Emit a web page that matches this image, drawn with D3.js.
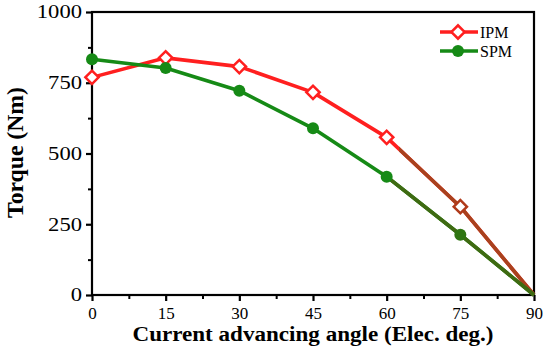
<!DOCTYPE html>
<html>
<head>
<meta charset="utf-8">
<script src="https://cdn.jsdelivr.net/npm/d3@7"></script>
<style>
  html, body { margin: 0; padding: 0; background: #fff; }
  svg { display: block; }
</style>
</head>
<body>
<figure id="chart" style="margin:0"></figure>
<script>
// chart values
const angles = [0, 15, 30, 45, 60, 75, 90];
const ipm = [769, 838, 807, 716, 557, 312, 0];
const spm = [833, 802, 722, 589, 418, 213, 0];
const xTicks = [0, 15, 30, 45, 60, 75, 90];
const yTicks = [0, 250, 500, 750, 1000];
const seriesNames = ["IPM", "SPM"];

const W = 550, H = 364;
const plotLeft = 92, plotTop = 12, plotRight = 534, plotBottom = 295;
const font = "'Liberation Serif', 'Times New Roman', serif";

const svg = d3.select("#chart")
  .append("svg")
  .attr("width", W)
  .attr("height", H);

const x = d3.scaleLinear().domain([0, 90]).range([plotLeft, plotRight]);
const y = d3.scaleLinear().domain([0, 1000]).range([plotBottom, plotTop]);

// frame
svg.append("rect")
  .attr("x", plotLeft).attr("y", plotTop)
  .attr("width", plotRight - plotLeft).attr("height", plotBottom - plotTop)
  .attr("fill", "none").attr("stroke", "#000").attr("stroke-width", 2.2);

// minor ticks
const xMinor = d3.range(7.5, 90, 15);
const yMinor = d3.range(125, 1000, 250);
svg.append("g")
  .attr("transform", "translate(0," + plotBottom + ")")
  .call(d3.axisBottom(x).tickValues(xMinor).tickSize(4).tickFormat(""))
  .call(g => g.select(".domain").remove())
  .selectAll("line").attr("stroke-width", 2);
svg.append("g")
  .attr("transform", "translate(" + plotLeft + ",0)")
  .call(d3.axisLeft(y).tickValues(yMinor).tickSize(4).tickFormat(""))
  .call(g => g.select(".domain").remove())
  .selectAll("line").attr("stroke-width", 2);

// major x axis
const gx = svg.append("g")
  .attr("transform", "translate(0," + plotBottom + ")")
  .call(d3.axisBottom(x).tickValues(xTicks).tickSize(6).tickPadding(6).tickFormat(d3.format("d")));
gx.select(".domain").remove();
gx.selectAll("line").attr("stroke-width", 2.2);
gx.selectAll("text")
  .attr("font-family", font).attr("font-size", 17).attr("fill", "#000");

// major y axis
const gy = svg.append("g")
  .attr("transform", "translate(" + plotLeft + ",0)")
  .call(d3.axisLeft(y).tickValues(yTicks).tickSize(6).tickPadding(4).tickFormat(d3.format("d")));
gy.select(".domain").remove();
gy.selectAll("line").attr("stroke-width", 2.2);
gy.selectAll("text")
  .attr("font-family", font).attr("font-size", 18).attr("fill", "#000")
  .attr("textLength", d => String(d).length * 11.3)
  .attr("lengthAdjust", "spacingAndGlyphs");

// axis titles
svg.append("text")
  .attr("x", (plotLeft + plotRight) / 2).attr("y", 341)
  .attr("text-anchor", "middle")
  .attr("font-family", font).attr("font-weight", "bold").attr("font-size", 20)
  .attr("textLength", 361).attr("lengthAdjust", "spacingAndGlyphs")
  .text("Current advancing angle (Elec. deg.)");

svg.append("text")
  .attr("transform", "translate(23," + 152.5 + ") rotate(-90)")
  .attr("text-anchor", "middle")
  .attr("font-family", font).attr("font-weight", "bold").attr("font-size", 23)
  .attr("textLength", 131).attr("lengthAdjust", "spacingAndGlyphs")
  .text("Torque (Nm)");

const line = d3.line().x((d, i) => x(angles[i])).y(d => y(d));
const red = "#ff1f1f", green = "#168a16";
const redTail = "#a8421e", greenTail = "#3f6a12";

// the reference darkens the last part of each curve
function tailClip(id, from) {
  svg.append("clipPath").attr("id", id)
    .append("rect")
    .attr("x", x(from)).attr("y", plotTop)
    .attr("width", plotRight - x(from) + 4).attr("height", plotBottom - plotTop + 4);
}
tailClip("tail-ipm", 62.5);
tailClip("tail-spm", 59);

function drawSeries(data, colour, tailColour, clipId) {
  svg.append("path").datum(data)
    .attr("d", line).attr("fill", "none")
    .attr("stroke", colour).attr("stroke-width", 3.6).attr("stroke-linejoin", "round");
  svg.append("path").datum(data)
    .attr("d", line).attr("fill", "none").attr("clip-path", "url(#" + clipId + ")")
    .attr("stroke", tailColour).attr("stroke-width", 3.6).attr("stroke-linejoin", "round");
}
drawSeries(ipm, red, redTail, "tail-ipm");
drawSeries(spm, green, greenTail, "tail-spm");

const diamond = d3.symbol().type(d3.symbolSquare).size(88);

svg.selectAll(".ipm-pt")
  .data(ipm.slice(0, 6))
  .enter()
  .append("path")
  .attr("d", diamond)
  .attr("transform", (d, i) => "translate(" + x(angles[i]) + "," + y(d) + ") rotate(45)")
  .attr("fill", "#fff")
  .attr("stroke", (d, i) => angles[i] > 62.5 ? "#b03a1a" : red)
  .attr("stroke-width", 2.5);

svg.selectAll(".spm-pt")
  .data(spm.slice(0, 6))
  .enter()
  .append("circle")
  .attr("cx", (d, i) => x(angles[i]))
  .attr("cy", d => y(d))
  .attr("r", 6)
  .attr("fill", (d, i) => angles[i] > 60 ? "#2f7512" : green);

// legend
const leg = svg.append("g");
const legY = [32, 51];
leg.selectAll("line")
  .data(seriesNames)
  .enter()
  .append("line")
  .attr("x1", 440).attr("x2", 478)
  .attr("y1", (d, i) => legY[i]).attr("y2", (d, i) => legY[i])
  .attr("stroke", (d, i) => i === 0 ? red : green)
  .attr("stroke-width", 3.6);
leg.append("path")
  .attr("d", diamond)
  .attr("transform", "translate(458," + legY[0] + ") rotate(45)")
  .attr("fill", "#fff").attr("stroke", red).attr("stroke-width", 2.5);
leg.append("circle")
  .attr("cx", 458).attr("cy", legY[1]).attr("r", 6).attr("fill", green);
leg.selectAll("text")
  .data(seriesNames)
  .enter()
  .append("text")
  .attr("x", 480).attr("y", (d, i) => legY[i] + 5.5)
  .attr("font-family", font).attr("font-size", 16)
  .text(d => d);
</script>
</body>
</html>
